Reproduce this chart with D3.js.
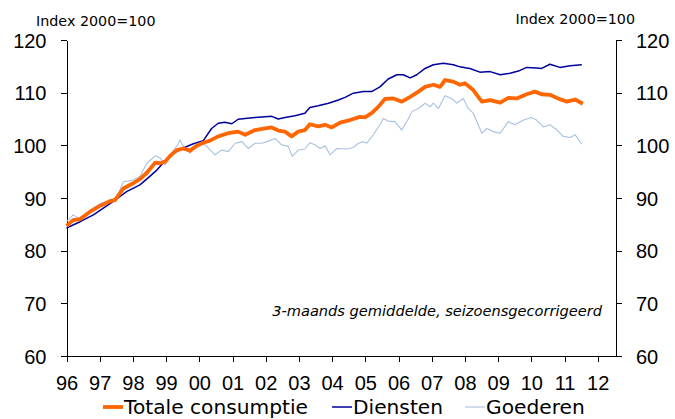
<!DOCTYPE html>
<html lang="nl">
<head>
<meta charset="UTF-8">
<title>Consumptie huishoudens</title>
<script src="https://d3js.org/d3.v7.min.js"></script>
<style>
  body { margin: 0; background: #fff; }
  svg { display: block; font-family: "DejaVu Sans", Verdana, sans-serif; }
  .axis path, .axis line { stroke: #000; shape-rendering: crispEdges; }
  .axis text { font-size: 20px; fill: #000; }
  .unit { font-size: 14.3px; }
  .note { font-size: 14.6px; font-style: italic; }
  .legend text { font-size: 20.2px; }
</style>
</head>
<body>
<svg width="675" height="419"></svg>
<script>
// decimal year / index (2000=100)
const totaal = [
  [1996.00, 84.7], [1996.20, 85.8], [1996.41, 86.0], [1996.71, 87.4], [1997.01, 88.5],
  [1997.31, 89.4], [1997.46, 89.6], [1997.71, 91.8], [1998.01, 92.8], [1998.21, 93.6],
  [1998.42, 94.8], [1998.67, 96.7], [1998.82, 96.6], [1998.97, 96.9], [1999.12, 98.0],
  [1999.32, 99.1], [1999.52, 99.4], [1999.72, 99.0], [1999.92, 99.9], [2000.12, 100.5],
  [2000.32, 100.9], [2000.57, 101.7], [2000.87, 102.3], [2001.17, 102.6], [2001.38, 102.0],
  [2001.68, 102.9], [2001.98, 103.2], [2002.18, 103.4], [2002.38, 102.8], [2002.58, 102.6],
  [2002.78, 101.7], [2002.98, 102.6], [2003.18, 102.9], [2003.33, 104.0], [2003.58, 103.6],
  [2003.79, 103.9], [2003.99, 103.4], [2004.24, 104.3], [2004.54, 104.8], [2004.84, 105.4],
  [2004.99, 105.3], [2005.19, 106.1], [2005.39, 107.3], [2005.59, 108.8], [2005.84, 108.9],
  [2006.10, 108.3], [2006.35, 109.2], [2006.60, 110.2], [2006.80, 111.1], [2007.05, 111.5],
  [2007.25, 111.1], [2007.40, 112.4], [2007.65, 112.1], [2007.85, 111.5], [2008.00, 111.8],
  [2008.25, 110.5], [2008.51, 108.3], [2008.76, 108.6], [2009.06, 108.1], [2009.31, 109.0],
  [2009.56, 108.9], [2009.86, 109.7], [2010.11, 110.2], [2010.31, 109.7], [2010.56, 109.6],
  [2010.81, 108.9], [2011.07, 108.3], [2011.32, 108.7], [2011.55, 107.9]
];

const diensten = [
  [1996.00, 84.3], [1996.41, 85.5], [1996.81, 86.8], [1997.21, 88.5], [1997.46, 89.6],
  [1997.81, 91.2], [1998.21, 92.5], [1998.51, 94.1], [1998.72, 95.3], [1999.02, 97.4],
  [1999.22, 98.5], [1999.52, 99.5], [1999.82, 100.3], [2000.12, 100.9], [2000.37, 103.2],
  [2000.57, 104.2], [2000.77, 104.4], [2000.98, 104.1], [2001.17, 104.95], [2001.38, 105.1],
  [2001.68, 105.3], [2002.18, 105.5], [2002.38, 105.0], [2002.58, 105.3], [2002.88, 105.6],
  [2003.18, 106.1], [2003.33, 107.2], [2003.58, 107.5], [2003.89, 108.0], [2004.19, 108.6],
  [2004.39, 109.1], [2004.64, 109.9], [2004.94, 110.2], [2005.19, 110.2], [2005.44, 111.1],
  [2005.69, 112.6], [2005.95, 113.4], [2006.14, 113.4], [2006.35, 112.8], [2006.55, 113.4],
  [2006.80, 114.6], [2007.05, 115.3], [2007.35, 115.6], [2007.65, 115.3], [2007.85, 114.9],
  [2008.05, 114.7], [2008.15, 114.6], [2008.45, 113.9], [2008.76, 114.0], [2009.06, 113.4],
  [2009.36, 113.7], [2009.61, 114.1], [2009.86, 114.8], [2010.16, 114.7], [2010.31, 114.6],
  [2010.56, 115.4], [2010.86, 114.8], [2011.17, 115.1], [2011.52, 115.3]
];

const goederen = [
  [1996.00, 85.5], [1996.20, 86.8], [1996.41, 86.0], [1996.71, 87.7], [1997.01, 88.9],
  [1997.31, 89.6], [1997.51, 90.0], [1997.71, 93.1], [1998.01, 93.4], [1998.21, 94.1],
  [1998.42, 96.6], [1998.67, 98.0], [1998.82, 97.6], [1998.97, 96.3], [1999.12, 98.2],
  [1999.37, 100.3], [1999.42, 101.0], [1999.52, 99.8], [1999.72, 98.5], [1999.92, 99.8],
  [2000.12, 100.4], [2000.27, 99.5], [2000.47, 98.2], [2000.67, 99.1], [2000.87, 98.8],
  [2001.08, 100.4], [2001.28, 100.7], [2001.48, 99.4], [2001.68, 100.4], [2001.88, 100.4],
  [2002.08, 100.8], [2002.28, 101.3], [2002.48, 100.1], [2002.68, 99.8], [2002.80, 97.9],
  [2002.98, 99.1], [2003.18, 99.3], [2003.33, 100.5], [2003.48, 100.1], [2003.64, 99.4],
  [2003.79, 99.9], [2003.94, 98.2], [2004.14, 99.4], [2004.44, 99.3], [2004.64, 99.6],
  [2004.79, 100.4], [2004.94, 100.7], [2005.04, 100.4], [2005.24, 102.0], [2005.44, 103.9],
  [2005.54, 105.1], [2005.69, 104.6], [2005.89, 104.5], [2006.10, 102.9], [2006.30, 105.1],
  [2006.40, 106.4], [2006.60, 107.0], [2006.80, 108.0], [2006.95, 107.3], [2007.05, 108.0],
  [2007.20, 107.0], [2007.40, 109.4], [2007.60, 108.9], [2007.75, 108.0], [2007.95, 108.9],
  [2008.10, 107.0], [2008.25, 106.1], [2008.51, 102.3], [2008.66, 103.2], [2008.86, 102.6],
  [2009.06, 102.3], [2009.31, 104.5], [2009.51, 103.9], [2009.76, 104.8], [2010.01, 105.3],
  [2010.16, 104.8], [2010.36, 103.5], [2010.56, 103.9], [2010.77, 102.9], [2010.96, 101.7],
  [2011.17, 101.5], [2011.32, 102.0], [2011.52, 100.2]
];

const yearTicks = d3.range(1996, 2013);
const yTicks = [60, 70, 80, 90, 100, 110, 120];
const unitLabel = "Index 2000=100";
const noteText = "3-maands gemiddelde, seizoensgecorrigeerd";

const series = [
  { name: "Totale consumptie", data: totaal, color: "#ff6600", width: 3.8 },
  { name: "Diensten", data: diensten, color: "#00009c", width: 1.5 },
  { name: "Goederen", data: goederen, color: "#a9c0e0", width: 1.1 }
];

const plotLeft = 66.5, plotRight = 616, plotTop = 40, plotBottom = 356;

const svg = d3.select("svg");

const x = d3.scaleLinear().domain([1996, 2012.55]).range([plotLeft, plotRight]);
const y = d3.scaleLinear().domain([60, 120]).range([plotBottom, plotTop]);

// axes
svg.append("g")
    .attr("class", "axis")
    .attr("transform", `translate(${plotLeft},0)`)
    .call(d3.axisLeft(y).tickValues(yTicks).tickSize(6).tickSizeOuter(0).tickPadding(14))
    .call(g => g.selectAll("text").attr("dy", "0.36em"));

svg.append("g")
    .attr("class", "axis")
    .attr("transform", `translate(${plotRight},0)`)
    .call(d3.axisRight(y).tickValues(yTicks).tickSize(6).tickSizeOuter(0).tickPadding(14))
    .call(g => g.selectAll("text").attr("dy", "0.36em"));

svg.append("g")
    .attr("class", "axis")
    .attr("transform", `translate(0,${plotBottom})`)
    .call(d3.axisBottom(x).tickValues(yearTicks).tickSize(6).tickSizeOuter(0).tickPadding(14)
        .tickFormat(d => String(d % 100).padStart(2, "0")))
    .call(g => g.select(".domain").attr("d", `M${plotLeft},0.5H${plotRight}`));

// lines, goederen first so orange stays on top
const line = d3.line().x(d => x(d[0])).y(d => y(d[1]));
const drawOrder = [series[2], series[1], series[0]];
svg.append("g").selectAll("path")
    .data(drawOrder)
    .join("path")
    .attr("fill", "none")
    .attr("stroke", d => d.color)
    .attr("stroke-width", d => d.width)
    .attr("stroke-linejoin", "round")
    .attr("d", d => line(d.data));

// labels
svg.append("text").attr("class", "unit").attr("x", 36).attr("y", 26).text(unitLabel);
svg.append("text").attr("class", "unit").attr("x", 635).attr("y", 24)
    .attr("text-anchor", "end").text(unitLabel);
svg.append("text").attr("class", "note").attr("x", 602).attr("y", 316)
    .attr("text-anchor", "end").text(noteText);

// legend (kept just above the bottom edge so descenders are not clipped)
const legendX = [103, 332, 465];
const legend = svg.append("g").attr("class", "legend")
    .selectAll("g")
    .data(series)
    .join("g")
    .attr("transform", (d, i) => `translate(${legendX[i]},407)`);
legend.append("line")
    .attr("x1", 0).attr("x2", 20)
    .attr("stroke", d => d.color)
    .attr("stroke-width", d => d.width);
legend.append("text")
    .attr("x", 21).attr("y", 7)
    .text(d => d.name);
</script>
</body>
</html>
